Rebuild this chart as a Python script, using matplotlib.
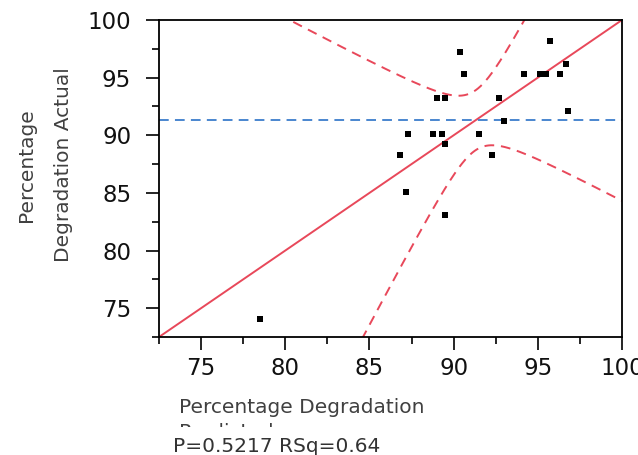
import numpy as np
import matplotlib
matplotlib.use("Agg")
import matplotlib.pyplot as plt
from matplotlib.ticker import MultipleLocator

plt.rcParams['font.family'] = ['DejaVu Sans']

# data
predicted = [90.4, 90.6, 89.0, 89.5, 92.7, 94.2, 95.1, 95.5, 96.3, 95.7, 96.7, 96.8,
             93.0, 87.3, 88.8, 89.3, 91.5, 89.5, 86.8, 92.3, 87.2, 89.5, 78.5]
actual = [97.2, 95.3, 93.2, 93.2, 93.2, 95.3, 95.3, 95.3, 95.3, 98.2, 96.2, 92.1,
          91.2, 90.1, 90.1, 90.1, 90.1, 89.2, 88.3, 88.3, 85.1, 83.1, 74.1]
x_ticks = [75, 80, 85, 90, 95, 100]
y_ticks = [75, 80, 85, 90, 95, 100]
# confidence-curve shape (hyperbola half-width parameters)
conf_d = 2.6
conf_k2 = 3.15

fig = plt.figure(figsize=(6.38, 4.55), dpi=100)
ax = fig.add_axes([159 / 638, 1 - 337 / 455, (622 - 159) / 638, (337 - 20) / 455])
xlim = (72.5, 100)
ylim = (72.5, 100)

mean_y = np.mean(actual)
xs = np.linspace(xlim[0], xlim[1], 400)
u = xs - mean_y
half = np.sqrt(conf_d ** 2 + conf_k2 * u ** 2)

red = '#e8485a'
ax.plot(xs, xs, color=red, lw=1.4, zorder=2)
ax.plot(xs, mean_y + u + half, color=red, lw=1.4, ls=(0, (5, 3.5)), zorder=2)
ax.plot(xs, mean_y + u - half, color=red, lw=1.4, ls=(0, (5, 3.5)), zorder=2)
ax.axhline(mean_y, color='#4a86cf', lw=1.4, ls=(0, (5, 3.2)), zorder=2)
ax.plot(predicted, actual, ls='none', marker='s', ms=4, color='black',
        markeredgewidth=0, zorder=3)

ax.set_xlim(*xlim)
ax.set_ylim(*ylim)
ax.set_xticks(x_ticks)
ax.set_yticks(y_ticks)
ax.xaxis.set_minor_locator(MultipleLocator(2.5))
ax.yaxis.set_minor_locator(MultipleLocator(2.5))
ax.tick_params(which='major', direction='out', length=9.5, width=1.2, labelsize=16.5,
               labelcolor='#111111')
ax.tick_params(which='minor', direction='out', length=5, width=1.2)
ax.tick_params(axis='y', which='major', pad=10.5)
ax.tick_params(axis='x', which='major', pad=5)
for s in ax.spines.values():
    s.set_linewidth(1.3)
    s.set_color('black')

fig.text(179 / 638, 1 - 438 / 455, 'Percentage Degradation\nPredicted', ha='left',
         va='baseline', fontsize=14.5, color='#404040', linespacing=1.4, zorder=3)
fig.text(173 / 638, 1 - 452 / 455, 'P=0.5217 RSq=0.64', ha='left', va='baseline',
         fontsize=14.5, color='#333333', zorder=4,
         bbox=dict(facecolor='white', edgecolor='none', pad=7.5))
fig.text(45 / 638, 1 - 165 / 455, 'Percentage\nDegradation Actual', ha='center',
         va='center', rotation=90, fontsize=14.5, color='#404040', linespacing=2.25)

fig.savefig('out.png', dpi=100)
